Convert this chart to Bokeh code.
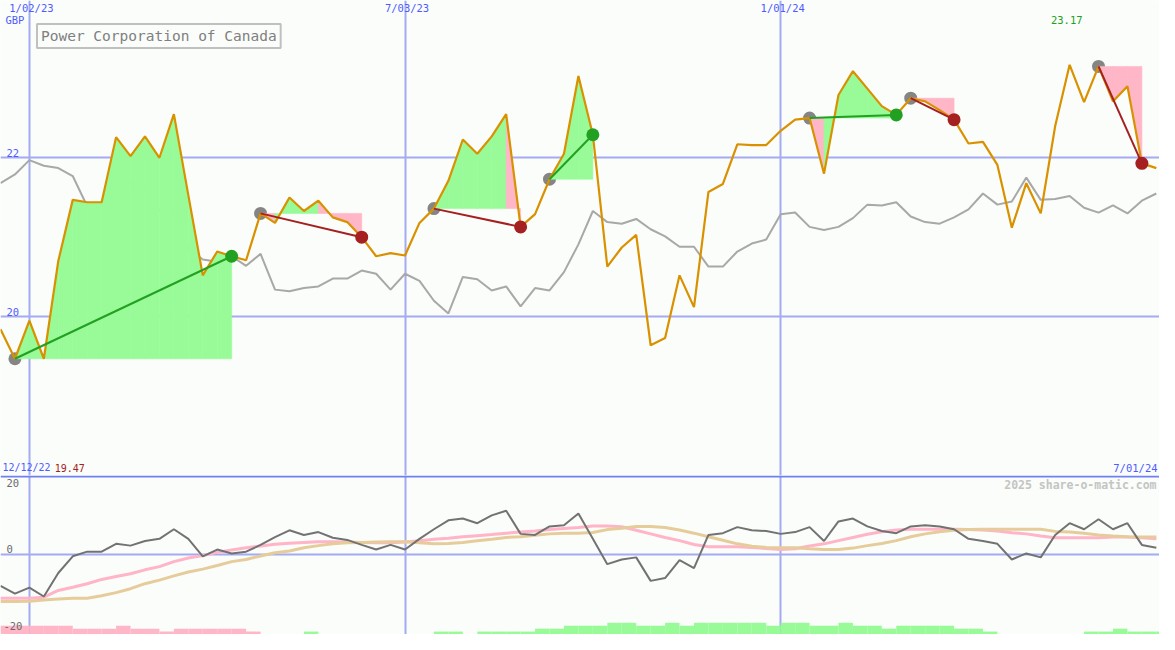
import pandas as pd
from bokeh.plotting import figure
from bokeh.layouts import column
from bokeh.models import Range1d, FixedTicker, Label, Span
from bokeh.embed import file_html
from bokeh.resources import INLINE

# ---------------- data ----------------
weeks = pd.date_range("2022-12-19", periods=81, freq="7D")

price = [19.84, 19.47, 19.95, 19.47, 20.70, 21.47, 21.44, 21.44, 22.26, 22.02,
         22.27, 22.00, 22.55, 21.53, 20.52, 20.82, 20.76, 20.71, 21.30, 21.18,
         21.50, 21.33, 21.46, 21.25, 21.19, 21.00, 20.76, 20.80, 20.77, 21.18,
         21.36, 21.71, 22.23, 22.05, 22.27, 22.55, 21.13, 21.29, 21.73, 22.05,
         23.03, 22.29, 20.63, 20.87, 21.03, 19.64, 19.73, 20.52, 20.12, 21.57,
         21.67, 22.17, 22.16, 22.16, 22.34, 22.48, 22.50, 21.80, 22.79, 23.09,
         22.87, 22.65, 22.54, 22.75, 22.71, 22.60, 22.48, 22.18, 22.20, 21.91,
         21.12, 21.68, 21.30, 22.40, 23.17, 22.70, 23.15, 22.71, 22.90, 21.93,
         21.87]

compare = [21.68, 21.79, 21.97, 21.90, 21.87, 21.77, 21.39, 21.39, 21.79, 21.68,
           21.61, 21.33, 21.29, 20.86, 20.72, 20.69, 20.76, 20.64, 20.79, 20.34,
           20.32, 20.36, 20.38, 20.48, 20.48, 20.58, 20.54, 20.34, 20.54, 20.45,
           20.20, 20.04, 20.50, 20.47, 20.33, 20.38, 20.13, 20.36, 20.33, 20.56,
           20.91, 21.33, 21.19, 21.17, 21.23, 21.10, 21.01, 20.88, 20.88, 20.63,
           20.63, 20.82, 20.92, 20.97, 21.29, 21.31, 21.13, 21.09, 21.13, 21.24,
           21.41, 21.40, 21.44, 21.26, 21.19, 21.17, 21.25, 21.35, 21.55, 21.41,
           21.45, 21.75, 21.47, 21.48, 21.52, 21.37, 21.31, 21.40, 21.30, 21.46,
           21.55]

osc = [-8.8, -11.0, -9.3, -11.8, -5.2, -0.5, 0.8, 0.8, 3.0, 2.5,
       3.8, 4.4, 7.1, 4.4, -0.5, 1.4, 0.3, 0.8, 2.7, 4.9,
       6.8, 5.5, 6.3, 4.7, 4.1, 2.7, 1.4, 2.7, 1.4, 4.4,
       7.1, 9.6, 10.1, 8.8, 11.0, 12.3, 5.8, 5.5, 7.9, 8.2,
       11.5, 4.4, -2.7, -1.4, -0.8, -7.4, -6.6, -1.6, -3.8, 5.5,
       6.0, 7.7, 6.8, 6.6, 5.8, 6.3, 7.7, 3.8, 9.3, 10.1,
       7.9, 6.6, 6.0, 7.9, 8.2, 7.9, 7.1, 4.4, 3.8, 3.0,
       -1.4, 0.3, -0.8, 5.5, 8.8, 7.1, 9.9, 7.1, 8.8, 2.7,
       1.9]

ma_fast = [-12.3, -12.3, -12.3, -12.0, -10.1, -9.2, -8.2, -7.0, -6.2, -5.4,
           -4.3, -3.4, -2.0, -1.0, -0.3, 0.6, 1.3, 1.9, 2.4, 2.9,
           3.2, 3.4, 3.6, 3.6, 3.5, 3.4, 3.3, 3.3, 3.5, 3.9,
           4.3, 4.6, 5.0, 5.3, 5.6, 6.0, 6.3, 6.6, 7.0, 7.3,
           7.6, 8.0, 8.0, 7.8, 6.8, 5.8, 4.8, 3.9, 2.8, 2.2,
           2.2, 2.2, 2.0, 1.7, 1.4, 1.6, 2.4, 3.0, 3.9, 4.8,
           5.7, 6.4, 6.9, 7.1, 7.1, 7.1, 7.1, 7.0, 6.9, 6.6,
           6.1, 5.8, 5.2, 4.7, 4.7, 4.7, 4.7, 4.9, 4.9, 4.7,
           4.4]

ma_slow = [-13.2, -13.2, -13.1, -12.8, -12.5, -12.3, -12.3, -11.6, -10.7, -9.6,
           -8.2, -7.2, -6.0, -4.9, -4.1, -3.1, -2.0, -1.4, -0.4, 0.5,
           1.0, 1.9, 2.5, 3.0, 3.3, 3.4, 3.5, 3.6, 3.6, 3.3,
           3.0, 3.1, 3.4, 3.9, 4.3, 4.8, 5.0, 5.4, 5.8, 6.0,
           6.0, 6.2, 7.0, 7.4, 7.9, 7.9, 7.6, 6.9, 6.0, 5.0,
           4.0, 3.0, 2.3, 2.0, 1.9, 1.9, 1.6, 1.4, 1.4, 1.8,
           2.5, 3.1, 3.9, 5.0, 5.8, 6.4, 6.8, 7.0, 7.1, 7.1,
           7.1, 7.1, 7.1, 6.5, 6.3, 6.0, 5.5, 5.2, 5.0, 4.9,
           4.9]

bar_level = [-3, -3, -3, -3, -3, -2, -2, -2, -3, -2,
             -2, -1, -2, -2, -2, -2, -2, -1, 0, 0,
             0, 1, 0, 0, 0, 0, 0, 0, 0, 0,
             1, 1, 0, 1, 1, 1, 1, 2, 2, 3,
             3, 3, 4, 4, 3, 3, 4, 3, 4, 4,
             4, 4, 4, 3, 4, 4, 3, 3, 4, 3,
             3, 2, 3, 3, 3, 3, 2, 2, 1, 0,
             0, 0, 0, 0, 0, 1, 1, 2, 1, 1,
             1]

trade_start = [1, 18, 30, 38, 56, 63, 76]
trade_end = [16, 25, 36, 41, 62, 66, 79]

grid_dates = ["2023-01-02", "2023-07-03", "2024-01-01"]
grid_date_labels = ["1/02/23", "7/03/23", "1/01/24"]
top_y_ticks = [20, 22]
bottom_y_ticks = [20, 0, -20]
title = "Power Corporation of Canada"
currency = "GBP"
start_label = "12/12/22"
end_label = "7/01/24"
low_label = "19.47"
high_label = "23.17"
high_index = 74
copyright_text = "2025 share-o-matic.com"

# ---------------- styling ----------------
W, HT, HB = 1159, 475, 159
SX, SY = W / 1175.0, HT / 487.0
BG = "#FAFDFA"
GRID = "#A3ABF2"
BLUE = "#4F5BFF"
ORANGE = "#DA9100"
GREEN_FILL = "#98FB98"
PINK_FILL = "#FFB6C6"
GREEN = "#22A022"
RED = "#A52020"
FONT = "DejaVu Sans Mono"


def ms(t):
    return (pd.Timestamp(t) - pd.Timestamp("1970-01-01")).total_seconds() * 1000.0


x = [ms(t) for t in weeks]
week_ms = x[1] - x[0]
x_start = x[0]
x_end = x[0] + 80.22 * week_ms
grid_ms = [ms(d) for d in grid_dates]


def make_fig(h, y0, y1):
    f = figure(width=W, height=h, output_backend="svg", toolbar_location=None,
               x_range=Range1d(x_start, x_end), y_range=Range1d(y0, y1),
               min_border=0, min_border_left=0, min_border_right=0,
               min_border_top=0, min_border_bottom=0)
    f.axis.visible = False
    f.outline_line_color = None
    f.background_fill_color = BG
    f.border_fill_color = BG
    f.xgrid.ticker = FixedTicker(ticks=grid_ms)
    f.xgrid.grid_line_color = GRID
    f.xgrid.grid_line_width = 2
    f.ygrid.grid_line_color = GRID
    f.ygrid.grid_line_width = 2
    return f


def lab(fig, **kw):
    base = dict(text_font=FONT, text_font_size="10.5px")
    base.update(kw)
    fig.add_layout(Label(**base))


# ---------------- top panel ----------------
p = make_fig(HT, 18.0, 23.98)
p.ygrid.ticker = FixedTicker(ticks=top_y_ticks)

p.line(x, compare, line_color="#A8A8A8", line_width=2)

sx_ = [x[s] for s in trade_start]
sy_ = [price[s] for s in trade_start]
p.scatter(sx_, sy_, size=13, fill_color="#858585", line_color=None)

fxs, fys, fcols = [], [], []
for s, e in zip(trade_start, trade_end):
    base = price[s]
    for k in range(s, e):
        fxs.append([x[k], x[k], x[k + 1], x[k + 1]])
        fys.append([base, price[k], price[k + 1], base])
        fcols.append(GREEN_FILL if price[k + 1] >= base else PINK_FILL)
p.patches(fxs, fys, fill_color=fcols, line_color=fcols, line_width=0.6)

p.line(x, price, line_color=ORANGE, line_width=2.2)

for s, e in zip(trade_start, trade_end):
    c = GREEN if price[e] >= price[s] else RED
    p.line([x[s], x[e]], [price[s], price[e]], line_color=c, line_width=2)
ex = [x[e] for e in trade_end]
ey = [price[e] for e in trade_end]
ec = [GREEN if price[e] >= price[s] else RED for s, e in zip(trade_start, trade_end)]
p.scatter(ex, ey, size=13, fill_color=ec, line_color=None)

for d, t in zip(grid_ms, grid_date_labels):
    lab(p, x=d + 0.14 * week_ms, y=HT - 8 * SY, y_units="screen", text=t,
        text_color=BLUE, text_align="center", text_baseline="middle")
lab(p, x=5 * SX, y=HT - 20 * SY, x_units="screen", y_units="screen", text=currency,
    text_color=BLUE, text_align="left", text_baseline="middle")
# value labels sit just above their grid lines
top_label_px = {22: 156, 20: 319}
for v in top_y_ticks:
    lab(p, x=6 * SX, y=HT - top_label_px[v] * SY, x_units="screen", y_units="screen",
        text=str(v), text_color=BLUE, text_align="left", text_baseline="middle")
lab(p, x=2 * SX, y=HT - 479 * SY, x_units="screen", y_units="screen", text=start_label,
    text_color=BLUE, text_align="left", text_baseline="middle", text_font_size="10px")
lab(p, x=55 * SX, y=HT - 479 * SY, x_units="screen", y_units="screen", text=low_label,
    text_color=RED, text_align="left", text_baseline="middle", text_font_size="10px")
lab(p, x=1173 * SX, y=HT - 479 * SY, x_units="screen", y_units="screen", text=end_label,
    text_color=BLUE, text_align="right", text_baseline="middle")
lab(p, x=x[high_index] - 0.2 * week_ms, y=HT - 20 * SY, y_units="screen", text=high_label,
    text_color=GREEN, text_align="center", text_baseline="middle")
p.add_layout(Label(x=37 * SX, y=HT - 36.5 * SY, x_units="screen", y_units="screen",
                   text=title, text_font=FONT, text_font_size="14.5px",
                   text_color="#808080", text_align="left", text_baseline="middle",
                   border_line_color="#C0C0C0", border_line_width=2,
                   background_fill_color=BG, padding=4))

# ---------------- bottom panel ----------------
q = make_fig(HB, -22.47, 22.2)
q.ygrid.ticker = FixedTicker(ticks=[0])
q.extra_y_ranges = {"bars": Range1d(0, HB / (3 * SY))}

bl, br, bt, bc = [], [], [], []
for i, lv in enumerate(bar_level):
    if lv == 0:
        continue
    bl.append(x[i])
    br.append(x[i] + week_ms)
    bt.append(abs(lv))
    bc.append(GREEN_FILL if lv > 0 else PINK_FILL)
q.quad(left=bl, right=br, bottom=0, top=bt, fill_color=bc, line_color=None,
       y_range_name="bars")

q.line(x, ma_fast, line_color="#FFB4C8", line_width=3)
q.line(x, ma_slow, line_color="#E6CC9A", line_width=3)
q.line(x, osc, line_color="#727272", line_width=2)

q.add_layout(Span(location=21.9, dimension="width", line_color="#7080F0", line_width=2))

GREY_TXT = "#6A6A6A"
bottom_label_px = {20: 8, 0: 75, -20: 154}
bottom_label_x = {20: 6, 0: 6, -20: 3}
for v in bottom_y_ticks:
    lab(q, x=bottom_label_x[v] * SX, y=HB - bottom_label_px[v] * SY, x_units="screen",
        y_units="screen", text=str(v), text_color=GREY_TXT, text_align="left",
        text_baseline="middle")
lab(q, x=1172 * SX, y=HB - 9.5 * SY, x_units="screen", y_units="screen",
    text=copyright_text, text_color="#C4C4C4", text_align="right",
    text_baseline="middle", text_font_size="11.5px", text_font_style="bold")

layout = column(p, q, spacing=0)
open("out.html", "w").write(file_html(layout, INLINE))
